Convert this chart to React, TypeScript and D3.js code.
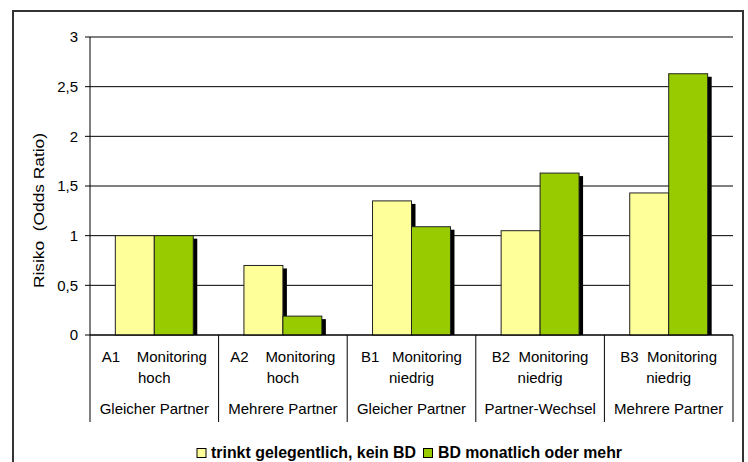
import React from 'react';
import * as d3 from 'd3';

const groups = ['A1', 'A2', 'B1', 'B2', 'B3'];
const codeGaps = ['    ', '    ', '   ', '  ', '  '];
const monitoring = ['hoch', 'hoch', 'niedrig', 'niedrig', 'niedrig'];
const partner = ['Gleicher Partner', 'Mehrere Partner', 'Gleicher Partner', 'Partner-Wechsel', 'Mehrere Partner'];

const seriesNames = ['trinkt gelegentlich, kein BD', 'BD monatlich oder mehr'];
const seriesColors = ['#FFFF99', '#99CC00'];
const occasional = [1.0, 0.7, 1.35, 1.05, 1.43];
const monthly = [1.0, 0.19, 1.09, 1.63, 2.63];
const seriesValues = [occasional, monthly];

const yTicks = [0, 0.5, 1, 1.5, 2, 2.5, 3];
const fmt = (v: number) => String(v).replace('.', ',');

const W = 748;
const H = 462;
const left = 90;
const right = 733;
const top = 37;
const bottom = 335;
const font = '"Liberation Sans", Arial, sans-serif';
const fs = 15;

const App: React.FC = () => {
    const y = d3.scaleLinear().domain([0, 3]).range([bottom, top]);
    const x0 = d3.scaleBand<string>().domain(groups).range([left, right]);
    const x1 = d3.scaleBand<number>().domain([0, 1]).range([0, x0.bandwidth()]).paddingOuter(0.65);

    const catLines = [...groups.map(g => x0(g)!), right];

    return (
        <svg width={W} height={H} style={{ position: 'absolute', left: 0, top: 0, display: 'block' }} fontFamily={font}>
            <rect x={0} y={0} width={W} height={H} fill="#fff" />
            <rect x={13} y={11} width={730} height={455} fill="none" stroke="#333" strokeWidth={2} />

            {/* gridlines */}
            {yTicks.map(t => (
                <line key={t} x1={left} x2={right} y1={y(t)} y2={y(t)} stroke="#000" strokeWidth={1} />
            ))}

            {/* bars: shadow then bar, series in order */}
            {seriesValues.map((vals, si) => (
                <g key={si}>
                    {groups.map((g, i) => {
                        const bx = x0(g)! + x1(si)!;
                        const by = y(vals[i]);
                        const bw = x1.bandwidth();
                        return (
                            <g key={g}>
                                <rect x={bx + 4} y={by + 3} width={bw} height={Math.max(0, bottom - by - 3)} fill="#000" />
                                <rect x={bx} y={by} width={bw} height={bottom - by} fill={seriesColors[si]} stroke="#222" strokeWidth={1} />
                            </g>
                        );
                    })}
                </g>
            ))}

            {/* y axis */}
            <line x1={left} x2={left} y1={top} y2={bottom} stroke="#000" />
            {yTicks.map(t => (
                <g key={t}>
                    <line x1={left - 5} x2={left} y1={y(t)} y2={y(t)} stroke="#000" />
                    <text x={78} y={y(t)} dy="0.35em" textAnchor="end" fontSize={fs}>{fmt(t)}</text>
                </g>
            ))}
            <text transform="translate(44,210.5) rotate(-90)" textAnchor="middle" fontSize={fs}
                textLength={155} lengthAdjust="spacingAndGlyphs" style={{ whiteSpace: 'pre' }}>
                {'Risiko  (Odds Ratio)'}
            </text>

            {/* category axis */}
            <line x1={left} x2={right} y1={bottom} y2={bottom} stroke="#000" />
            {catLines.map((cx, i) => (
                <line key={i} x1={cx} x2={cx} y1={bottom} y2={422} stroke="#000" />
            ))}
            {groups.map((g, i) => {
                const cx = x0(g)! + x0.bandwidth() / 2;
                return (
                    <g key={g} fontSize={fs} textAnchor="middle">
                        <text x={cx} y={357} dy="0.35em" style={{ whiteSpace: 'pre' }}>{`${g}${codeGaps[i]}Monitoring`}</text>
                        <text x={cx} y={378} dy="0.35em">{monitoring[i]}</text>
                        <text x={cx} y={409} dy="0.35em">{partner[i]}</text>
                    </g>
                );
            })}

            {/* legend */}
            <g fontSize={16} fontWeight="bold">
                <rect x={197} y={448.5} width={9} height={9} fill={seriesColors[0]} stroke="#000" />
                <text x={211} y={458} textLength={205} lengthAdjust="spacingAndGlyphs">{seriesNames[0]}</text>
                <rect x={423.5} y={448.5} width={9} height={9} fill={seriesColors[1]} stroke="#000" />
                <text x={438} y={458} textLength={184} lengthAdjust="spacingAndGlyphs">{seriesNames[1]}</text>
            </g>
        </svg>
    );
};

export default App;
